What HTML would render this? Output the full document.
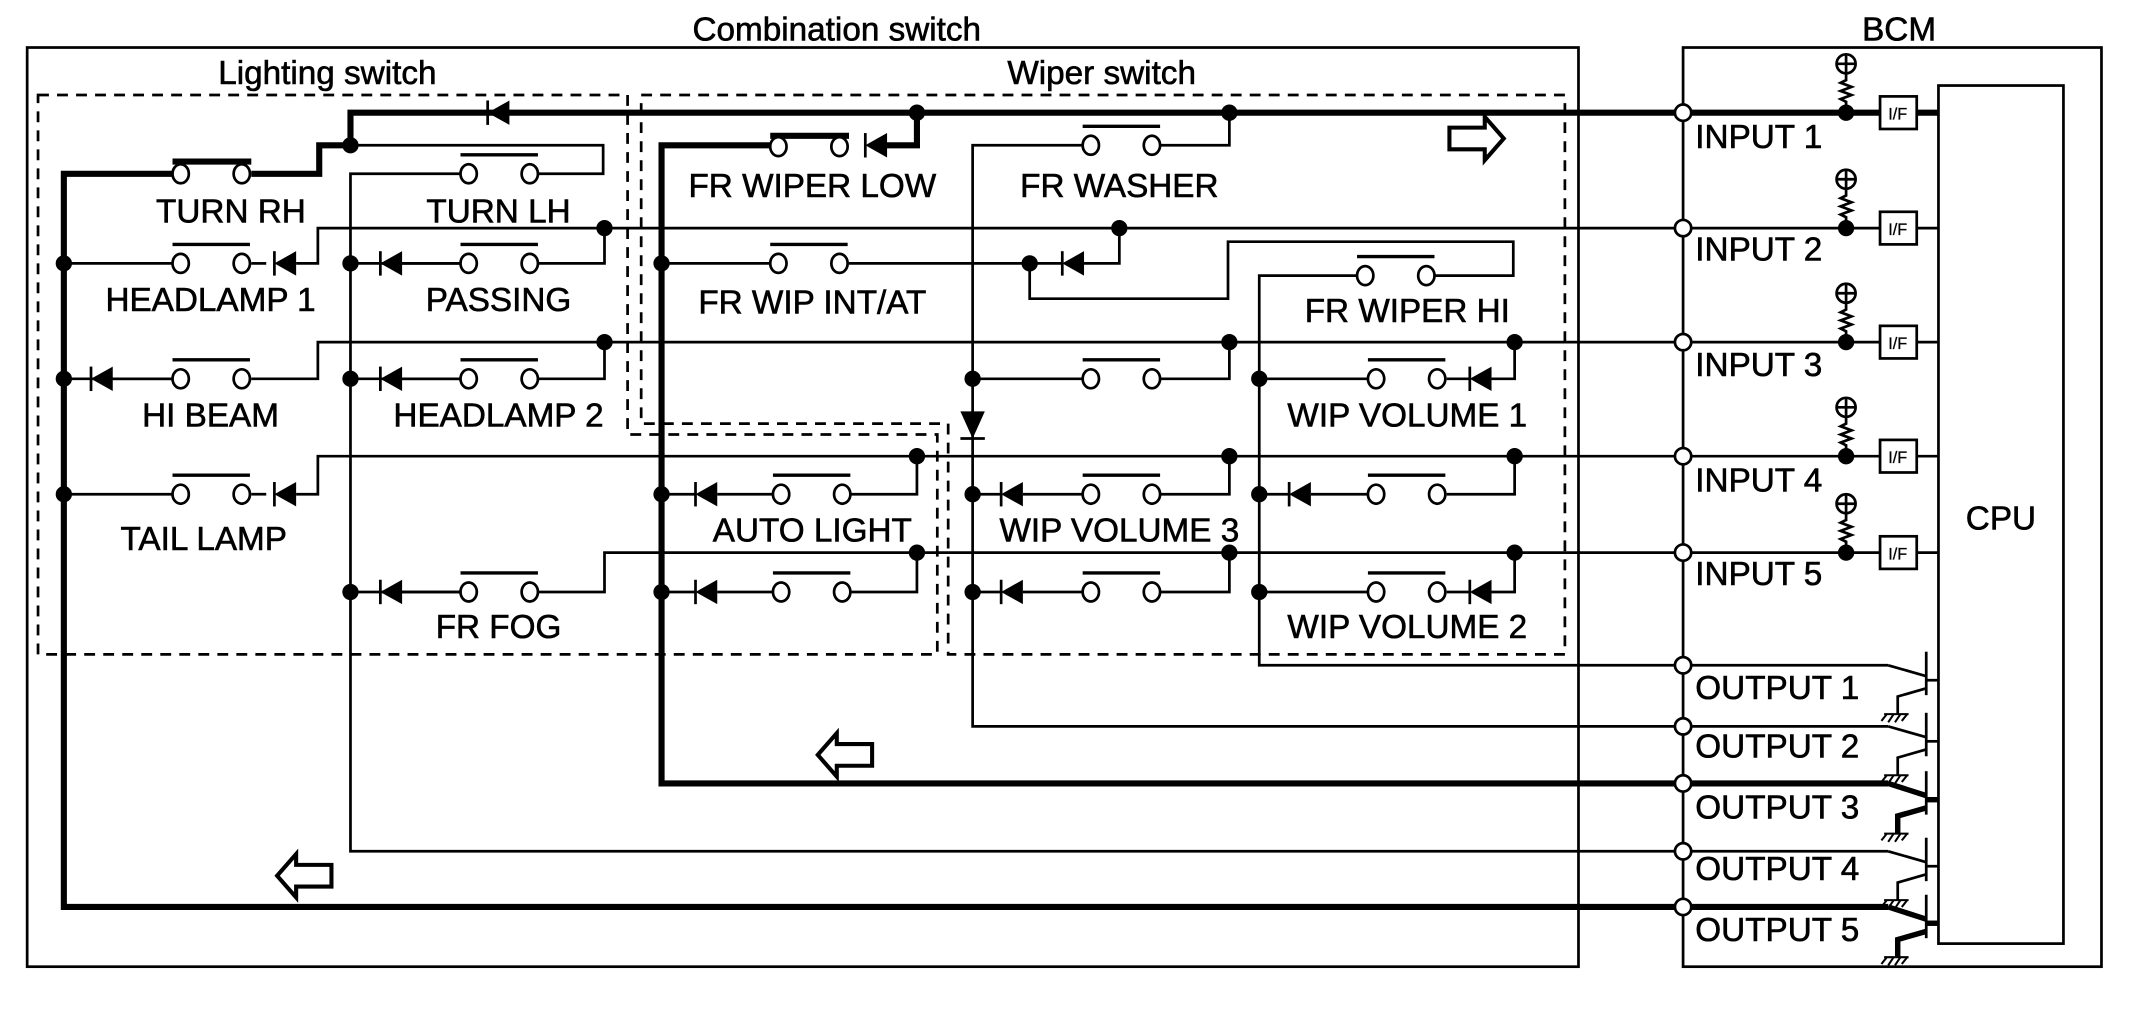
<!DOCTYPE html>
<html><head><meta charset="utf-8"><style>
html,body{margin:0;padding:0;background:#fff}
svg{display:block}
text{font-family:"Liberation Sans",Arial,sans-serif;font-size:24.5px;fill:#000;stroke:#000;stroke-width:0.45px}
</style></head><body>
<svg width="2130" height="1021" viewBox="0 0 1568 752" preserveAspectRatio="none" xmlns="http://www.w3.org/2000/svg">
<defs>
<g id="swc"><ellipse cx="0" cy="0" rx="6" ry="7" fill="#fff" stroke="#000" stroke-width="2"/><ellipse cx="45" cy="0" rx="6" ry="7" fill="#fff" stroke="#000" stroke-width="2"/></g>
<g id="sw"><use href="#swc"/><line x1="-6" y1="-14" x2="51" y2="-14" stroke="#000" stroke-width="2.5"/></g>
<g id="di"><polygon points="8,-9 8,9 -8,0" fill="#000"/><line x1="-8" y1="-9" x2="-8" y2="9" stroke="#000" stroke-width="2"/></g>
<circle id="nd" r="6" fill="#000"/>
<circle id="oc" r="6" fill="#fff" stroke="#000" stroke-width="2"/>
<g id="gnd" stroke="#000" stroke-width="1.5"><line x1="-10" y1="0" x2="8" y2="0"/><line x1="-8" y1="0" x2="-12" y2="5"/><line x1="-3" y1="0" x2="-7" y2="6"/><line x1="2" y1="0" x2="-2" y2="6"/><line x1="7" y1="0" x2="3" y2="5"/></g>
</defs>
<g fill="none" stroke="#000">
<rect x="20" y="35" width="1142" height="677" stroke-width="2"/>
<rect x="1239" y="35" width="308" height="677" stroke-width="2"/>
<rect x="1427" y="63" width="92" height="632" stroke-width="2"/>
<polygon points="28,70 462,70 462,320 690,320 690,482 28,482" stroke-width="2" stroke-dasharray="8,6"/>
<polygon points="472,70 1152,70 1152,482 698,482 698,312 472,312" stroke-width="2" stroke-dasharray="8,6"/>
<g stroke-width="4.5">
<polyline points="1427,83 258,83 258,107 235,107 235,128 185,128"/>
<polyline points="127,128 47,128 47,668 1390,668"/>
<polyline points="675,83 675,107 650,107"/>
<polyline points="567,107 487,107 487,577 1390,577"/>
<line x1="127" y1="119" x2="185" y2="119"/>
<line x1="567" y1="100" x2="625" y2="100"/>
</g>
<g stroke-width="2">
<polyline points="258,107 444,107 444,128 396,128"/>
<polyline points="339,128 258,128 258,627 1390,627"/>
<polyline points="1427,168 234,168 234,194 218,194"/>
<polyline points="445,168 445,194 396,194"/>
<line x1="127" y1="194" x2="47" y2="194"/>
<polyline points="339,194 258,194"/>
<polyline points="1427,252 234,252 234,279 185,279"/>
<line x1="127" y1="279" x2="47" y2="279"/>
<polyline points="445,252 445,279 396,279"/>
<line x1="339" y1="279" x2="258" y2="279"/>
<polyline points="1427,336 234,336 234,364 218,364"/>
<line x1="127" y1="364" x2="47" y2="364"/>
<polyline points="1427,407 445,407 445,436 396,436"/>
<line x1="339" y1="436" x2="258" y2="436"/>
<polyline points="905,83 905,107 854,107"/>
<polyline points="797,107 716,107 716,535 1390,535"/>
<line x1="487" y1="194" x2="567" y2="194"/>
<line x1="625" y1="194" x2="782" y2="194"/>
<polyline points="824,168 824,194 798,194"/>
<polyline points="758,194 758,220 904,220 904,178 1114,178 1114,203 1056,203"/>
<polyline points="999,203 927,203 927,490 1390,490"/>
<polyline points="716,279 797,279"/><polyline points="854,279 905,279 905,252"/>
<polyline points="927,279 1007,279"/><polyline points="1065,279 1082,279"/><polyline points="1098,279 1115,279 1115,252"/>
<polyline points="487,364 512,364"/><polyline points="528,364 569,364"/><polyline points="626,364 675,364 675,336"/>
<polyline points="716,364 737,364"/><polyline points="753,364 797,364"/><polyline points="854,364 905,364 905,336"/>
<polyline points="927,364 949,364"/><polyline points="965,364 1007,364"/><polyline points="1065,364 1115,364 1115,336"/>
<polyline points="487,436 512,436"/><polyline points="528,436 569,436"/><polyline points="626,436 675,436 675,407"/>
<polyline points="716,436 737,436"/><polyline points="753,436 797,436"/><polyline points="854,436 905,436 905,407"/>
<polyline points="927,436 1007,436"/><polyline points="1065,436 1082,436"/><polyline points="1098,436 1115,436 1115,407"/>
<line x1="196" y1="194" x2="185" y2="194"/><line x1="196" y1="364" x2="185" y2="364"/>
<line x1="83" y1="279" x2="127" y2="279"/>
<line x1="296" y1="194" x2="339" y2="194"/><line x1="296" y1="279" x2="339" y2="279"/><line x1="296" y1="436" x2="339" y2="436"/>
</g>
</g>
<g stroke="#000" stroke-width="2" fill="#fff">
<g><polyline fill="none" points="1359,83 1359,75 1355,73 1363,70 1355,67 1363,64 1355,61 1359,59 1359,54"/><circle cx="1359" cy="47" r="7"/><line x1="1352" y1="47" x2="1366" y2="47"/><line x1="1359" y1="40" x2="1359" y2="54"/><rect x="1384" y="71" width="27" height="24"/></g>
<g transform="translate(0,85)"><polyline fill="none" points="1359,83 1359,75 1355,73 1363,70 1355,67 1363,64 1355,61 1359,59 1359,54"/><circle cx="1359" cy="47" r="7"/><line x1="1352" y1="47" x2="1366" y2="47"/><line x1="1359" y1="40" x2="1359" y2="54"/><rect x="1384" y="71" width="27" height="24"/></g>
<g transform="translate(0,169)"><polyline fill="none" points="1359,83 1359,75 1355,73 1363,70 1355,67 1363,64 1355,61 1359,59 1359,54"/><circle cx="1359" cy="47" r="7"/><line x1="1352" y1="47" x2="1366" y2="47"/><line x1="1359" y1="40" x2="1359" y2="54"/><rect x="1384" y="71" width="27" height="24"/></g>
<g transform="translate(0,253)"><polyline fill="none" points="1359,83 1359,75 1355,73 1363,70 1355,67 1363,64 1355,61 1359,59 1359,54"/><circle cx="1359" cy="47" r="7"/><line x1="1352" y1="47" x2="1366" y2="47"/><line x1="1359" y1="40" x2="1359" y2="54"/><rect x="1384" y="71" width="27" height="24"/></g>
<g transform="translate(0,324)"><polyline fill="none" points="1359,83 1359,75 1355,73 1363,70 1355,67 1363,64 1355,61 1359,59 1359,54"/><circle cx="1359" cy="47" r="7"/><line x1="1352" y1="47" x2="1366" y2="47"/><line x1="1359" y1="40" x2="1359" y2="54"/><rect x="1384" y="71" width="27" height="24"/></g>
</g>
<g><text x="1397" y="88" text-anchor="middle" style="font-size:12px;stroke-width:0.2px">I/F</text><text x="1397" y="173" text-anchor="middle" style="font-size:12px;stroke-width:0.2px">I/F</text><text x="1397" y="257" text-anchor="middle" style="font-size:12px;stroke-width:0.2px">I/F</text><text x="1397" y="341" text-anchor="middle" style="font-size:12px;stroke-width:0.2px">I/F</text><text x="1397" y="412" text-anchor="middle" style="font-size:12px;stroke-width:0.2px">I/F</text></g>
<g stroke="#000" fill="none">
<g stroke-width="2"><polyline points="1390,490 1418,498"/><line x1="1418" y1="480" x2="1418" y2="512"/><line x1="1418" y1="501" x2="1427" y2="501"/><polyline points="1418,507 1397,513 1397,526"/></g>
<g stroke-width="2"><polyline points="1390,535 1418,543"/><line x1="1418" y1="525" x2="1418" y2="557"/><line x1="1418" y1="546" x2="1427" y2="546"/><polyline points="1418,552 1397,558 1397,571"/></g>
<g stroke-width="4"><polyline points="1390,577 1418,586"/><line x1="1418" y1="568" x2="1418" y2="600" stroke-width="2"/><line x1="1418" y1="589" x2="1427" y2="589"/><polyline points="1418,595 1397,601 1397,614"/></g>
<g stroke-width="2"><polyline points="1390,627 1418,635"/><line x1="1418" y1="617" x2="1418" y2="649"/><line x1="1418" y1="638" x2="1427" y2="638"/><polyline points="1418,644 1397,650 1397,663"/></g>
<g stroke-width="4"><polyline points="1390,668 1418,677"/><line x1="1418" y1="659" x2="1418" y2="691" stroke-width="2"/><line x1="1418" y1="680" x2="1427" y2="680"/><polyline points="1418,686 1397,692 1397,705"/></g>
</g>
<use href="#gnd" x="1397" y="526"/><use href="#gnd" x="1397" y="571"/><use href="#gnd" x="1397" y="614"/><use href="#gnd" x="1397" y="663"/><use href="#gnd" x="1397" y="705"/>
<use href="#swc" x="133" y="128"/><use href="#sw" x="345" y="128"/>
<use href="#sw" x="133" y="194"/><use href="#sw" x="345" y="194"/>
<use href="#sw" x="133" y="279"/><use href="#sw" x="345" y="279"/>
<use href="#sw" x="133" y="364"/><use href="#sw" x="345" y="436"/>
<use href="#swc" x="573" y="108"/><use href="#sw" x="803" y="107"/>
<use href="#sw" x="573" y="194"/><use href="#sw" x="1005" y="203"/>
<use href="#sw" x="803" y="279"/><use href="#sw" x="1013" y="279"/>
<use href="#sw" x="575" y="364"/><use href="#sw" x="803" y="364"/><use href="#sw" x="1013" y="364"/>
<use href="#sw" x="575" y="436"/><use href="#sw" x="803" y="436"/><use href="#sw" x="1013" y="436"/>
<use href="#di" x="367" y="83"/><use href="#di" x="210" y="194"/><use href="#di" x="288" y="194"/>
<use href="#di" x="75" y="279"/><use href="#di" x="288" y="279"/><use href="#di" x="210" y="364"/><use href="#di" x="288" y="436"/>
<use href="#di" x="645" y="107"/><use href="#di" x="790" y="194"/><use href="#di" x="1090" y="279"/>
<use href="#di" x="520" y="364"/><use href="#di" x="745" y="364"/><use href="#di" x="957" y="364"/>
<use href="#di" x="520" y="436"/><use href="#di" x="745" y="436"/><use href="#di" x="1090" y="436"/>
<polygon points="707,303 725,303 716,323" fill="#000"/><line x1="707" y1="323" x2="725" y2="323" stroke="#000" stroke-width="2"/>
<use href="#nd" x="258" y="107"/><use href="#nd" x="445" y="168"/><use href="#nd" x="445" y="252"/>
<use href="#nd" x="47" y="194"/><use href="#nd" x="47" y="279"/><use href="#nd" x="47" y="364"/>
<use href="#nd" x="258" y="194"/><use href="#nd" x="258" y="279"/><use href="#nd" x="258" y="436"/>
<use href="#nd" x="675" y="83"/><use href="#nd" x="905" y="83"/><use href="#nd" x="487" y="194"/><use href="#nd" x="824" y="168"/><use href="#nd" x="758" y="194"/>
<use href="#nd" x="905" y="252"/><use href="#nd" x="1115" y="252"/><use href="#nd" x="716" y="279"/><use href="#nd" x="927" y="279"/>
<use href="#nd" x="675" y="336"/><use href="#nd" x="905" y="336"/><use href="#nd" x="1115" y="336"/>
<use href="#nd" x="487" y="364"/><use href="#nd" x="716" y="364"/><use href="#nd" x="927" y="364"/>
<use href="#nd" x="675" y="407"/><use href="#nd" x="905" y="407"/><use href="#nd" x="1115" y="407"/>
<use href="#nd" x="487" y="436"/><use href="#nd" x="716" y="436"/><use href="#nd" x="927" y="436"/>
<use href="#nd" x="1359" y="83"/><use href="#nd" x="1359" y="168"/><use href="#nd" x="1359" y="252"/><use href="#nd" x="1359" y="336"/><use href="#nd" x="1359" y="407"/>
<use href="#oc" x="1239" y="83"/><use href="#oc" x="1239" y="168"/><use href="#oc" x="1239" y="252"/><use href="#oc" x="1239" y="336"/><use href="#oc" x="1239" y="407"/>
<use href="#oc" x="1239" y="490"/><use href="#oc" x="1239" y="535"/><use href="#oc" x="1239" y="577"/><use href="#oc" x="1239" y="627"/><use href="#oc" x="1239" y="668"/>
<g fill="#fff" stroke="#000" stroke-width="3">
<polygon points="1107,102 1093,86 1093,94 1067,94 1067,110 1093,110 1093,118"/>
<polygon points="602,556 616,540 616,548 642,548 642,564 616,564 616,572"/>
<polygon points="204,645 218,629 218,637 244,637 244,653 218,653 218,661"/>
</g>
<g text-anchor="middle">
<text x="616" y="30">Combination switch</text><text x="1398" y="30">BCM</text>
<text x="241" y="62">Lighting switch</text><text x="811" y="62">Wiper switch</text>
<text x="170" y="164">TURN RH</text><text x="367" y="164">TURN LH</text>
<text x="155" y="229">HEADLAMP 1</text><text x="367" y="229">PASSING</text>
<text x="155" y="314">HI BEAM</text><text x="367" y="314">HEADLAMP 2</text>
<text x="150" y="405">TAIL LAMP</text><text x="367" y="470">FR FOG</text>
<text x="598" y="145">FR WIPER LOW</text><text x="824" y="145">FR WASHER</text>
<text x="598" y="231">FR WIP INT/AT</text><text x="1036" y="237">FR WIPER HI</text>
<text x="1036" y="314">WIP VOLUME 1</text><text x="598" y="399">AUTO LIGHT</text><text x="824" y="399">WIP VOLUME 3</text>
<text x="1036" y="470">WIP VOLUME 2</text><text x="1473" y="390">CPU</text>
</g>
<g>
<text x="1248" y="109">INPUT 1</text><text x="1248" y="192">INPUT 2</text><text x="1248" y="277">INPUT 3</text><text x="1248" y="362">INPUT 4</text><text x="1248" y="431">INPUT 5</text>
<text x="1248" y="515">OUTPUT 1</text><text x="1248" y="558">OUTPUT 2</text><text x="1248" y="603">OUTPUT 3</text><text x="1248" y="648">OUTPUT 4</text><text x="1248" y="693">OUTPUT 5</text>
</g>
</svg>
</body></html>
